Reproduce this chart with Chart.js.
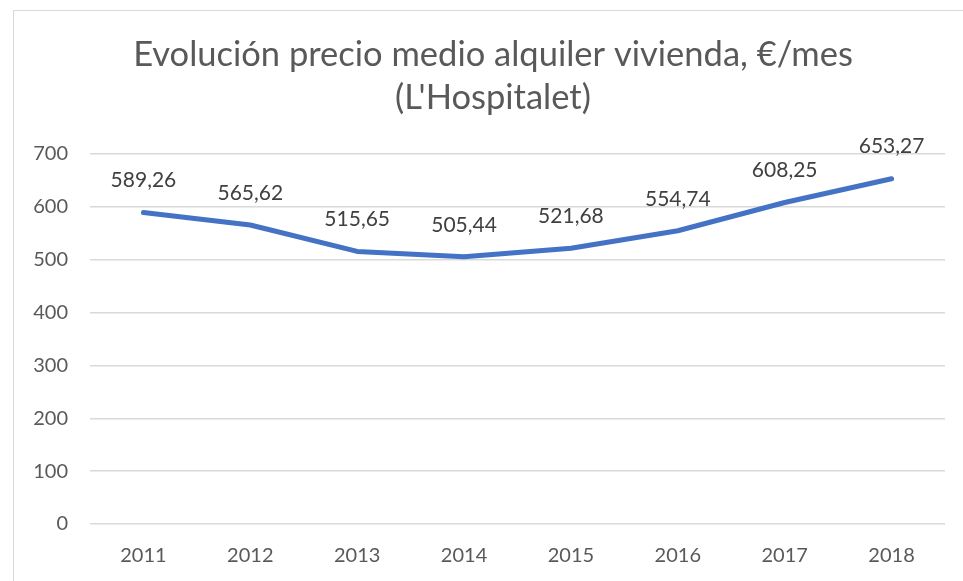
<!DOCTYPE html>
<html>
<head>
<meta charset="utf-8">
<script src="https://cdn.jsdelivr.net/npm/chart.js@4/dist/chart.umd.min.js"></script>
<style>
  html, body { margin: 0; padding: 0; background: #fff; overflow: hidden; }
  #wrap { position: relative; width: 963px; height: 581px; }
  #frame {
    position: absolute; left: 13px; top: 10px;
    width: 1000px; height: 600px;
    border: 1px solid #d9d9d9; box-sizing: border-box;
  }
  canvas { position: absolute; left: 0; top: 0; }
</style>
</head>
<body>
<div id="wrap">
  <div id="frame"></div>
  <canvas id="chart" width="963" height="581"></canvas>
</div>
<script>
// Rental price series, €/month
const years  = ['2011', '2012', '2013', '2014', '2015', '2016', '2017', '2018'];
const prices = [589.26, 565.62, 515.65, 505.44, 521.68, 554.74, 608.25, 653.27];
const titleLines = ['Evolución precio medio alquiler vivienda, €/mes', "(L'Hospitalet)"];

const FONT = "Lato, 'Open Sans', sans-serif";
const TEXT = '#595959';

// Two-line heading, centred on the chart frame rather than the canvas
const heading = {
  id: 'heading',
  afterDraw(chart) {
    const ctx = chart.ctx;
    ctx.save();
    ctx.font = `34.5px ${FONT}`;
    ctx.fillStyle = TEXT;
    ctx.textAlign = 'center';
    ctx.textBaseline = 'alphabetic';
    ctx.fillText(titleLines[0], 493, 66);
    ctx.fillText(titleLines[1], 493, 109);
    ctx.restore();
  },
};

// Value labels above each point, with decimal comma
const pointLabels = {
  id: 'pointLabels',
  afterDatasetsDraw(chart) {
    const ctx = chart.ctx;
    const meta = chart.getDatasetMeta(0);
    ctx.save();
    ctx.font = `21px ${FONT}`;
    ctx.fillStyle = '#404040';
    ctx.textAlign = 'center';
    ctx.textBaseline = 'middle';
    meta.data.forEach((pt, i) => {
      const txt = prices[i].toFixed(2).replace('.', ',');
      ctx.fillText(txt, pt.x, pt.y - 32);
    });
    ctx.restore();
  },
};

new Chart(document.getElementById('chart'), {
  type: 'line',
  data: {
    labels: years,
    datasets: [{
      data: prices,
      borderColor: '#4472c4',
      borderWidth: 5,
      borderCapStyle: 'round',
      borderJoinStyle: 'round',
      pointRadius: 0,
      tension: 0,
      fill: false,
    }],
  },
  options: {
    responsive: false,
    animation: false,
    layout: { padding: { left: 0, right: 18, top: 154, bottom: 0 } },
    plugins: {
      legend: { display: false },
      tooltip: { enabled: false },
      title: { display: false },
    },
    scales: {
      x: {
        offset: true,
        grid: { display: false },
        border: { display: false },
        ticks: { color: TEXT, font: { family: FONT, size: 20 }, padding: 12 },
        afterFit: (s) => { s.height = 57; },
      },
      y: {
        min: 0,
        max: 700,
        ticks: { stepSize: 100, color: TEXT, font: { family: FONT, size: 20 }, padding: 22 },
        grid: { color: '#d9d9d9', lineWidth: 1.5, drawTicks: false },
        border: { display: false },
        afterFit: (s) => { s.width = 90; },
      },
    },
  },
  plugins: [pointLabels, heading],
});
</script>
</body>
</html>
